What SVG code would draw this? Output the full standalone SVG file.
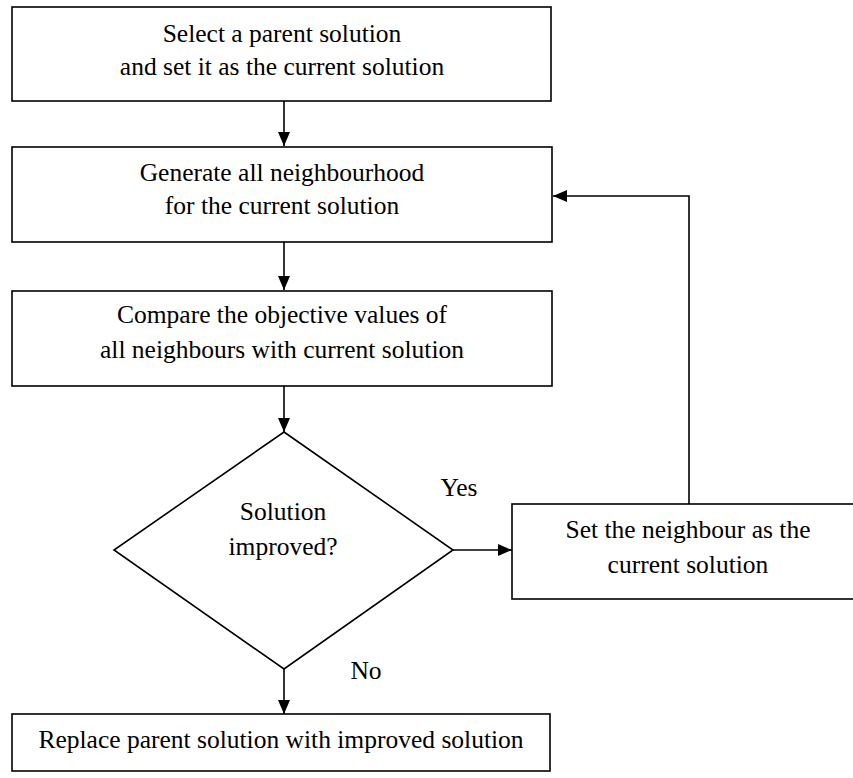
<svg xmlns="http://www.w3.org/2000/svg" width="853" height="778" viewBox="0 0 853 778">
<style>
.box{fill:#fff;stroke:#000;stroke-width:1.6}
.t{font-family:"Liberation Serif","Times New Roman",serif;font-size:25.5px;fill:#000;text-anchor:middle}
.c{fill:none;stroke:#000;stroke-width:1.6}
</style>
<defs>
<marker id="ah" markerUnits="userSpaceOnUse" markerWidth="14" markerHeight="12" refX="14" refY="6" orient="auto">
<path d="M0,0 L14,6 L0,12 z" fill="#000"/>
</marker>
</defs>
<rect width="853" height="778" fill="#fff"/>
<g id="n1">
<rect class="box" x="12" y="7" width="539" height="94"/>
<text class="t" x="282" y="42">Select a parent solution</text>
<text class="t" x="282" y="75">and set it as the current solution</text>
</g>
<g id="n2">
<rect class="box" x="12" y="147" width="540" height="95"/>
<text class="t" x="282" y="181">Generate all neighbourhood</text>
<text class="t" x="282" y="214">for the current solution</text>
</g>
<g id="n3">
<rect class="box" x="12" y="291" width="540" height="95"/>
<text class="t" x="282" y="323">Compare the objective values of</text>
<text class="t" x="282" y="358">all neighbours with current solution</text>
</g>
<g id="n4">
<polygon class="box" points="284,432 453,550 284,669 114,550"/>
<text class="t" x="283" y="520">Solution</text>
<text class="t" x="283" y="555">improved?</text>
</g>
<g id="n5">
<rect class="box" x="512" y="504" width="352" height="95"/>
<text class="t" x="688" y="538">Set the neighbour as the</text>
<text class="t" x="688" y="573">current solution</text>
</g>
<g id="n6">
<rect class="box" x="12" y="714" width="538" height="57"/>
<text class="t" x="281" y="748">Replace parent solution with improved solution</text>
</g>
<g id="connectors">
<path class="c" d="M284,101 V146" marker-end="url(#ah)"/>
<path class="c" d="M284,242 V290" marker-end="url(#ah)"/>
<path class="c" d="M284,386 V432" marker-end="url(#ah)"/>
<path class="c" d="M453,550 H512" marker-end="url(#ah)"/>
<path class="c" d="M689,504 V196 H553" marker-end="url(#ah)"/>
<path class="c" d="M284,669 V714" marker-end="url(#ah)"/>
<text class="t" x="459" y="496">Yes</text>
<text class="t" x="366" y="679">No</text>
</g>
</svg>
